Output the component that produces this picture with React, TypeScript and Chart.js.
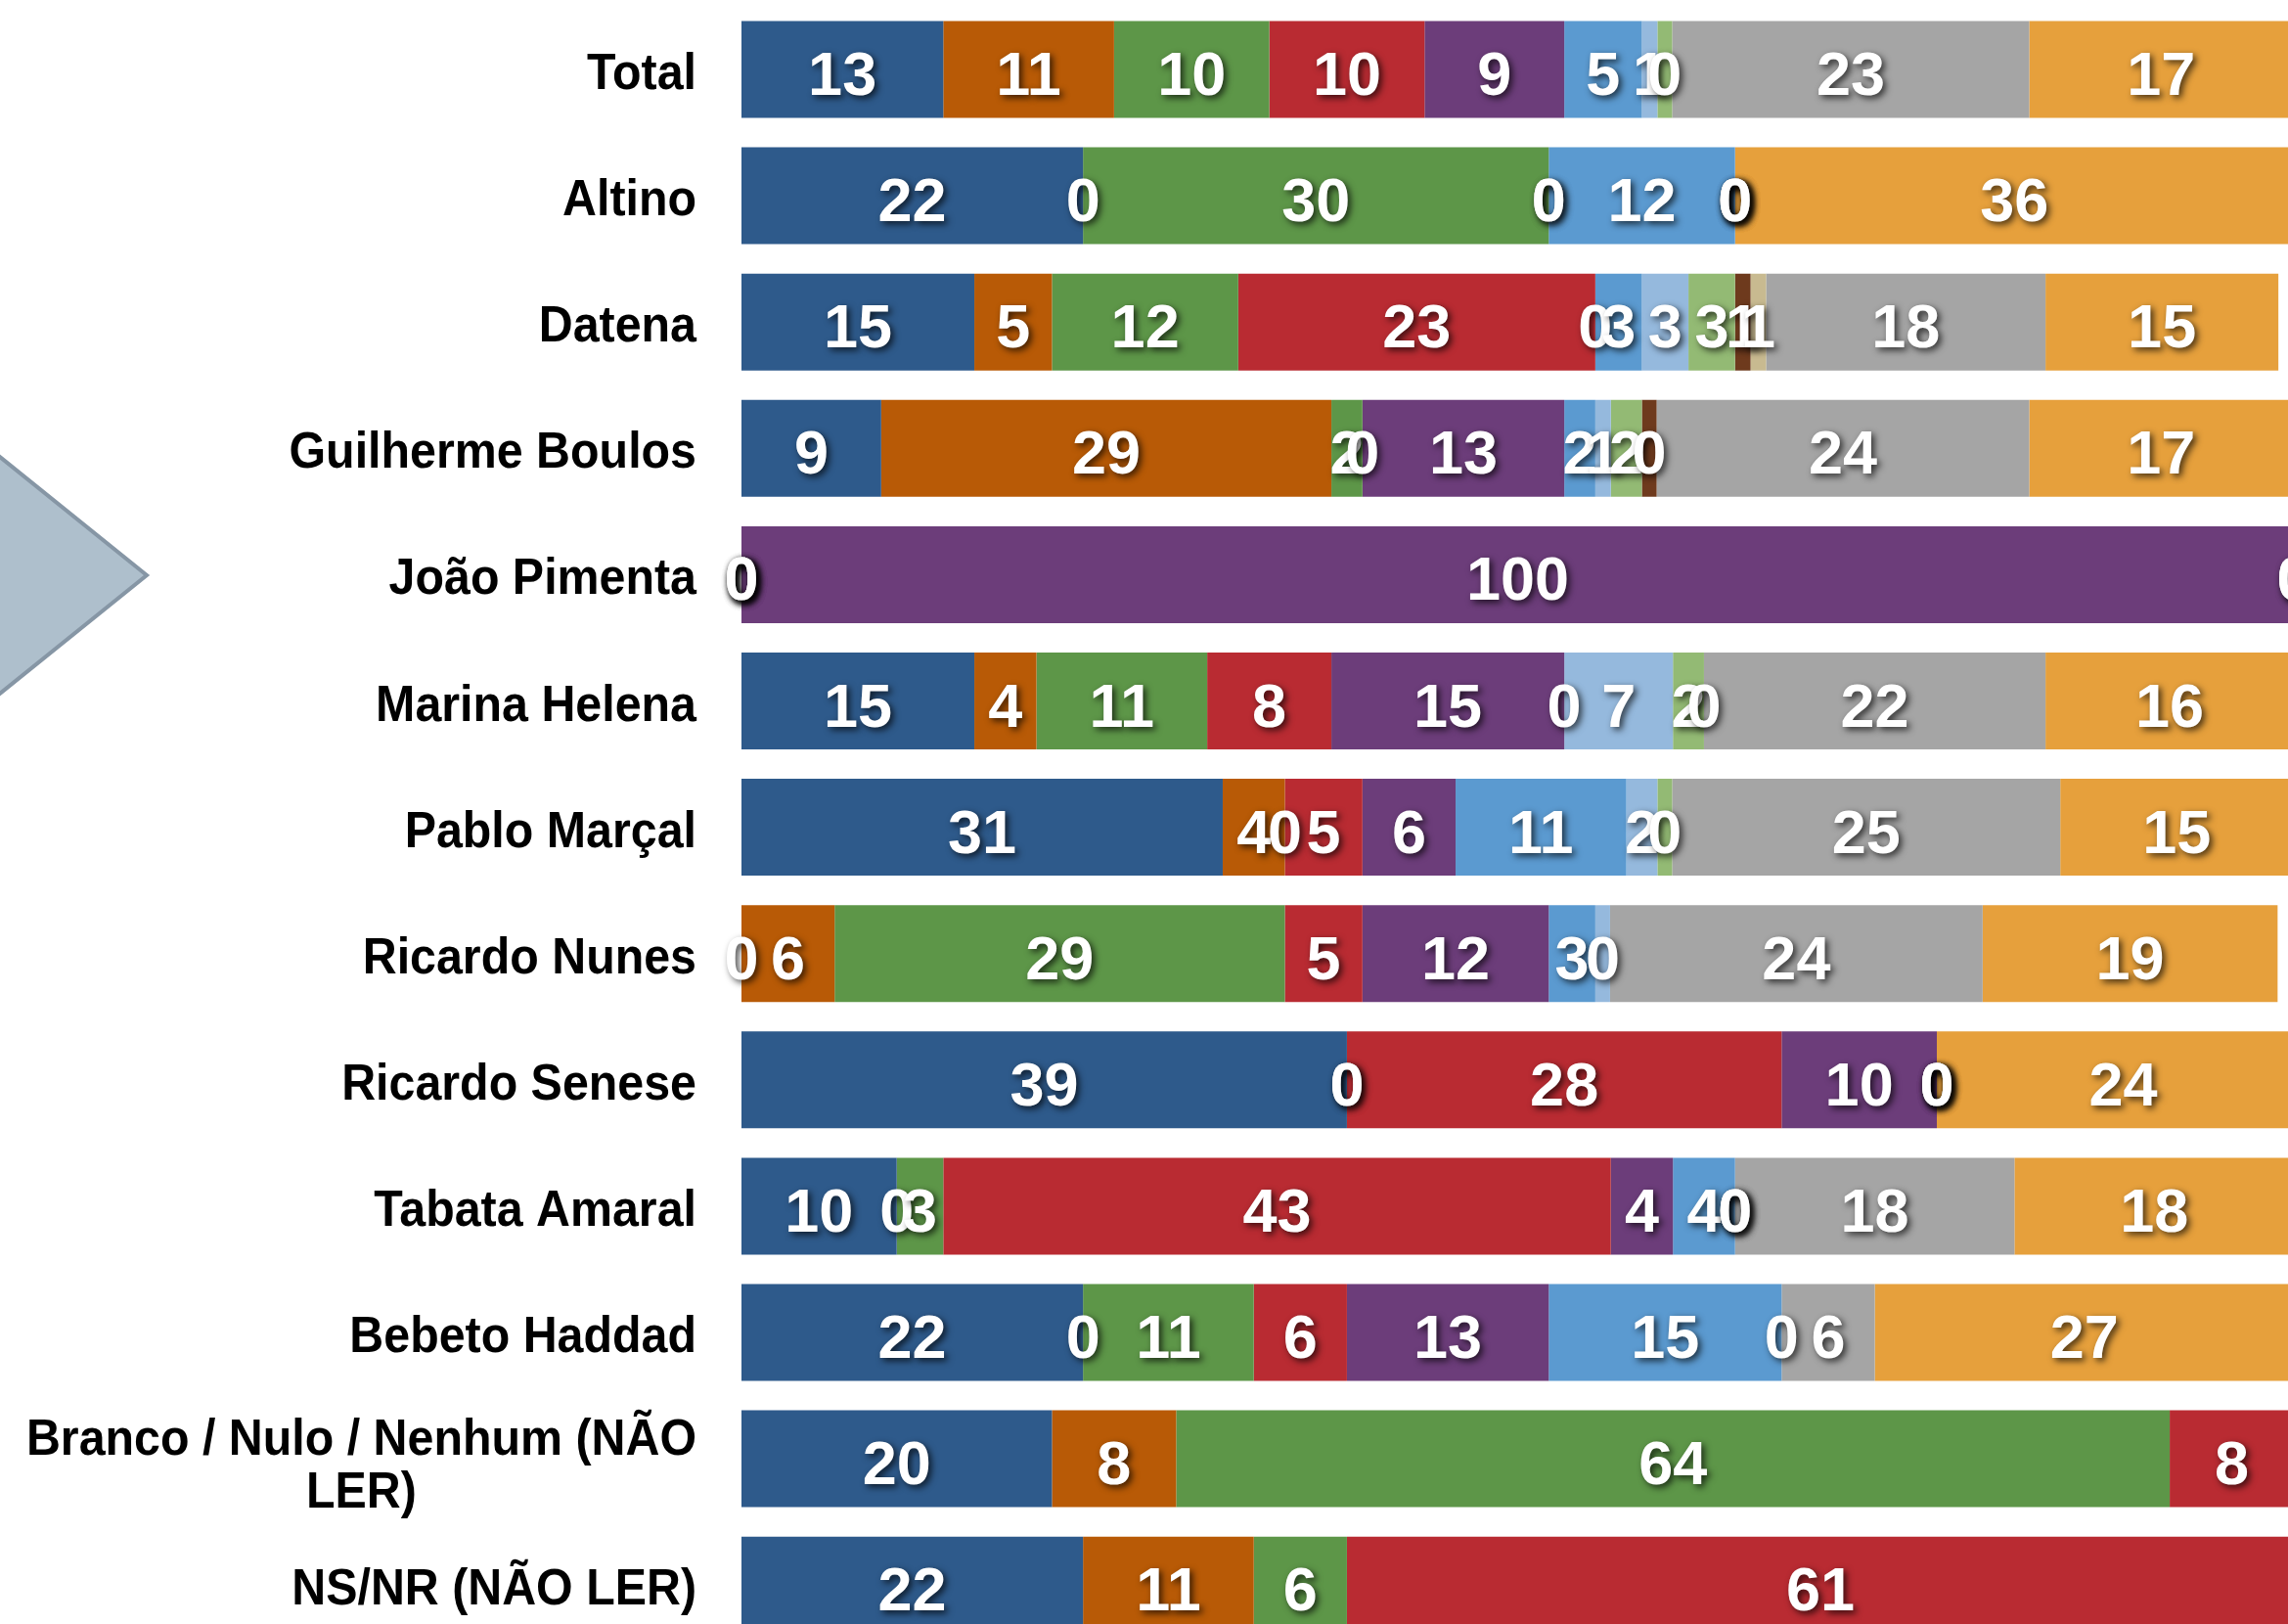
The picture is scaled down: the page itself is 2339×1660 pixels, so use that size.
import React, { useEffect, useRef } from "react";
import { Chart, registerables } from "chart.js";

Chart.register(...registerables);

// ---------- DATA ----------
const categories = [
  "Total",
  "Altino",
  "Datena",
  "Guilherme Boulos",
  "João Pimenta",
  "Marina Helena",
  "Pablo Marçal",
  "Ricardo Nunes",
  "Ricardo Senese",
  "Tabata Amaral",
  "Bebeto Haddad",
  "Branco / Nulo / Nenhum (NÃO LER)",
  "NS/NR (NÃO LER)",
];

// values per series, one entry per category (null = no segment)
const serie1 = [13, 22, 15, 9, 0, 15, 31, 0, 39, 10, 22, 20, 22];
const serie2 = [11, 0, 5, 29, 0, 4, 4, 6, 0, 0, 0, 8, 11];
const serie3 = [10, 30, 12, 2, 0, 11, 0, 29, 0, 3, 11, 64, 6];
const serie4 = [10, 0, 23, 0, 0, 8, 5, 5, 28, 43, 6, 8, 61];
const serie5 = [9, 0, 0, 13, 100, 15, 6, 12, 10, 4, 13, null, null];
const serie6 = [5, 12, 3, 2, 0, 0, 11, 3, 0, 4, 15, null, null];
const serie7 = [1, 0, 3, 1, null, 7, 2, 0.95, 0, 0, 0, null, null];
const serie8 = [0.95, 0, 3, 2, null, 2, 0.95, null, 0, 0, null, null, null];
const serie9 = [null, 0, 1, 0.95, null, 0, null, null, null, 0, null, null, null];
const serie10 = [null, null, 1, null, null, null, null, null, null, null, null, null, null];
const serie11 = [23, 0, 18, 24, null, 22, 25, 24, 0, 18, 6, null, null];
const serie12 = [17, 36, 15, 17, 0, 16, 15, 19, 24, 18, 27, null, null];

const seriesValues = [serie1, serie2, serie3, serie4, serie5, serie6, serie7, serie8, serie9, serie10, serie11, serie12];
const seriesNames = ["Série 1", "Série 2", "Série 3", "Série 4", "Série 5", "Série 6", "Série 7", "Série 8", "Série 9", "Série 10", "Série 11", "Série 12"];
const seriesColors = [
  "#2E5A8B",
  "#B85A06",
  "#5D9648",
  "#B92B32",
  "#6C3D7A",
  "#5B9AD0",
  "#95B9DD",
  "#93BA74",
  "#6E3A1D",
  "#C8BA90",
  "#A5A5A5",
  "#E6A03C",
];

const LABEL_FONT = '"Liberation Sans", Arial, Helvetica, sans-serif';

const decorPlugin = {
  id: "decor",
  beforeDraw(chart: any) {
    const ctx = chart.ctx as CanvasRenderingContext2D;
    ctx.save();
    ctx.fillStyle = "#ffffff";
    ctx.fillRect(0, 0, chart.width, chart.height);
    // decorative arrow shape on the left
    ctx.beginPath();
    ctx.moveTo(-20, 451);
    ctx.lineTo(150, 588);
    ctx.lineTo(-20, 725);
    ctx.closePath();
    ctx.fillStyle = "#AEBFCC";
    ctx.fill();
    ctx.lineWidth = 4;
    ctx.strokeStyle = "#8696A5";
    ctx.stroke();
    ctx.restore();
  },
  afterDraw(chart: any) {
    const ctx = chart.ctx as CanvasRenderingContext2D;
    const yScale = chart.scales.y;
    const labelRight = 712;
    const sx = 0.93;

    // category labels
    ctx.save();
    ctx.fillStyle = "#000000";
    ctx.font = `bold 52px ${LABEL_FONT}`;
    categories.forEach((cat, i) => {
      const yc = yScale.getPixelForValue(i);
      // greedy wrap
      const words = cat.split(" ");
      const lines: string[] = [];
      let cur = "";
      words.forEach((w) => {
        const test = cur ? cur + " " + w : w;
        if (ctx.measureText(test).width * sx > 710 && cur) {
          lines.push(cur);
          cur = w;
        } else cur = test;
      });
      if (cur) lines.push(cur);
      if (lines.length === 1) {
        ctx.save();
        ctx.translate(labelRight, yc + 20);
        ctx.scale(sx, 1);
        ctx.textAlign = "right";
        ctx.textBaseline = "alphabetic";
        ctx.fillText(lines[0], 0, 0);
        ctx.restore();
      } else {
        const maxW = Math.max(...lines.map((l) => ctx.measureText(l).width * sx));
        const cx = labelRight - maxW / 2;
        lines.forEach((l, li) => {
          ctx.save();
          ctx.translate(cx, yc - 4 + li * 54);
          ctx.scale(sx, 1);
          ctx.textAlign = "center";
          ctx.textBaseline = "alphabetic";
          ctx.fillText(l, 0, 0);
          ctx.restore();
        });
      }
    });
    ctx.restore();

    // data labels
    ctx.save();
    ctx.font = `bold 63px ${LABEL_FONT}`;
    ctx.textAlign = "center";
    ctx.textBaseline = "alphabetic";
    ctx.fillStyle = "#ffffff";
    ctx.shadowColor = "rgba(0,0,0,0.72)";
    ctx.shadowBlur = 7;
    ctx.shadowOffsetX = 3;
    ctx.shadowOffsetY = 3;
    chart.data.datasets.forEach((ds: any, di: number) => {
      const meta = chart.getDatasetMeta(di);
      meta.data.forEach((el: any, i: number) => {
        const v = ds.data[i];
        if (v === null || v === undefined) return;
        const p = el.getProps(["x", "y", "base"], true);
        const cx = (p.x + p.base) / 2;
        ctx.fillText(String(Math.floor(v)), cx, p.y + 26);
      });
    });
    ctx.restore();
  },
};

export default function App() {
  const ref = useRef<HTMLCanvasElement>(null);

  useEffect(() => {
    if (!ref.current) return;
    const chart = new Chart(ref.current, {
      type: "bar",
      data: {
        labels: categories,
        datasets: seriesValues.map((vals, i) => ({
          label: seriesNames[i],
          data: vals as any,
          backgroundColor: seriesColors[i],
          borderWidth: 0,
          categoryPercentage: 1,
          barPercentage: 0.767,
        })),
      },
      options: {
        indexAxis: "y",
        responsive: false,
        animation: false,
        layout: { padding: { left: 758, right: 0, top: 6.45, bottom: 15.25 } },
        scales: {
          x: { stacked: true, min: 0, max: 99.62, display: false },
          y: { stacked: true, display: false },
        },
        plugins: {
          legend: { display: false },
          tooltip: { enabled: false },
        },
      },
      plugins: [decorPlugin],
    });
    return () => chart.destroy();
  }, []);

  return (
    <div
      style={{
        position: "fixed",
        left: 0,
        top: 0,
        width: 2339,
        height: 1660,
        overflow: "hidden",
        background: "#ffffff",
      }}
    >
      <canvas ref={ref} width={2339} height={1700} style={{ display: "block", width: 2339, height: 1700 }} />
    </div>
  );
}
